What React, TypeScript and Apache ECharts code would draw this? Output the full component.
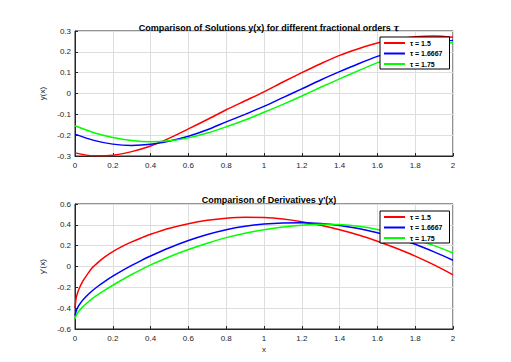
import React, { useEffect, useRef } from "react";
import * as echarts from "echarts";

const tauNames = ["τ = 1.5", "τ = 1.6667", "τ = 1.75"];
const colors = ["#ff0000", "#0000ff", "#00ff00"];

const xSol = [0, 0.1, 0.2, 0.3, 0.4, 0.5, 0.6, 0.7, 0.8, 0.9, 1.0, 1.1, 1.2, 1.3, 1.4, 1.5, 1.6, 1.7, 1.8, 1.9, 2.0];
const ySol15 = [-0.285, -0.299, -0.296, -0.279, -0.252, -0.214, -0.17, -0.125, -0.078, -0.035, 0.008, 0.055, 0.1, 0.143, 0.183, 0.215, 0.242, 0.26, 0.272, 0.276, 0.27];
const ySol16667 = [-0.195, -0.225, -0.243, -0.249, -0.244, -0.228, -0.205, -0.174, -0.136, -0.1, -0.062, -0.02, 0.022, 0.065, 0.105, 0.143, 0.178, 0.207, 0.23, 0.246, 0.255];
const ySol175 = [-0.155, -0.188, -0.211, -0.226, -0.232, -0.227, -0.213, -0.19, -0.16, -0.127, -0.09, -0.052, -0.012, 0.03, 0.07, 0.11, 0.148, 0.18, 0.21, 0.232, 0.245];

const xDer = [0, 0.005, 0.01, 0.02, 0.04, 0.06, 0.09, 0.125, 0.16, 0.2, 0.25, 0.3, 0.35, 0.4, 0.5, 0.6, 0.7, 0.8, 0.9, 1.0, 1.1, 1.2, 1.3, 1.4, 1.5, 1.6, 1.7, 1.8, 1.9, 2.0];
const yDer15 = [-0.4, -0.315, -0.275, -0.22, -0.145, -0.09, -0.015, 0.045, 0.095, 0.143, 0.193, 0.236, 0.274, 0.309, 0.367, 0.411, 0.443, 0.463, 0.472, 0.47, 0.456, 0.43, 0.395, 0.352, 0.302, 0.243, 0.175, 0.1, 0.015, -0.08];
const yDer16667 = [-0.47, -0.435, -0.41, -0.375, -0.325, -0.285, -0.235, -0.185, -0.14, -0.093, -0.04, 0.01, 0.057, 0.101, 0.18, 0.249, 0.307, 0.353, 0.386, 0.407, 0.418, 0.42, 0.412, 0.393, 0.364, 0.324, 0.274, 0.213, 0.14, 0.06];
const yDer175 = [-0.505, -0.475, -0.457, -0.43, -0.39, -0.355, -0.31, -0.266, -0.225, -0.18, -0.127, -0.077, -0.03, 0.015, 0.094, 0.163, 0.224, 0.277, 0.32, 0.353, 0.379, 0.397, 0.406, 0.403, 0.386, 0.356, 0.315, 0.262, 0.2, 0.13];

const xTicksMin = 0;
const xTicksMax = 2;
const xTickStep = 0.2;

const FONT = "Liberation Sans";
const AX = "#262626";

const fmt = (v: number) => String(parseFloat(v.toFixed(2)));

function pairs(xs: number[], ys: number[]) {
  return xs.map((x, i) => [x, ys[i]]);
}

export default function App() {
  const ref = useRef<HTMLDivElement>(null);
  useEffect(() => {
    if (!ref.current) return;
    const chart = echarts.init(ref.current, null, { renderer: "svg" });
    const grids = [
      { left: 75, right: 58, top: 31, height: 125, show: true, borderColor: AX, borderWidth: 1, backgroundColor: "transparent" },
      { left: 75, right: 58, top: 204, height: 125, show: true, borderColor: AX, borderWidth: 1, backgroundColor: "transparent" },
    ];
    const xMain = (gi: number, name: string) => ({
      type: "value",
      gridIndex: gi,
      min: xTicksMin,
      max: xTicksMax,
      interval: xTickStep,
      position: "bottom",
      name,
      nameLocation: "middle",
      nameGap: 16,
      nameTextStyle: { fontFamily: FONT, fontSize: 8, color: AX },
      axisLine: { show: true, onZero: false, lineStyle: { color: AX, width: 1 } },
      axisTick: { show: true, inside: true, length: 3, lineStyle: { color: AX } },
      axisLabel: { fontFamily: FONT, fontSize: 8, color: AX, margin: 5, formatter: fmt },
      splitLine: { show: true, lineStyle: { color: "#dedede", width: 1 } },
    });
    const yMain = (gi: number, min: number, max: number, step: number, name: string) => ({
      type: "value",
      gridIndex: gi,
      min,
      max,
      interval: step,
      position: "left",
      name,
      nameLocation: "middle",
      nameGap: 23,
      nameTextStyle: { fontFamily: FONT, fontSize: 8, color: AX },
      axisLine: { show: true, onZero: false, lineStyle: { color: AX, width: 1 } },
      axisTick: { show: true, inside: true, length: 3, lineStyle: { color: AX } },
      axisLabel: { fontFamily: FONT, fontSize: 8, color: AX, margin: 4, formatter: fmt },
      splitLine: { show: true, lineStyle: { color: "#dedede", width: 1 } },
    });
    const mkSeries = (name: string, color: string, data: number[][], gi: number) => ({
      type: "line",
      name,
      xAxisIndex: gi,
      yAxisIndex: gi,
      data,
      smooth: 0.3,
      showSymbol: false,
      symbol: "none",
      lineStyle: { color, width: 1.5 },
      itemStyle: { color },
    });
    const legendBase = {
      orient: "vertical",
      left: 380,
      data: tauNames,
      icon: "rect",
      itemWidth: 21,
      itemHeight: 2,
      itemGap: 0.5,
      padding: [1, 7, 0, 4],
      backgroundColor: "#ffffff",
      borderColor: "#000000",
      borderWidth: 1,
      borderRadius: 0,
      selectedMode: false,
      z: 10,
      textStyle: { fontFamily: FONT, fontSize: 7, fontWeight: "bold", color: "#000", lineHeight: 10 },
    };
    const titleStyle = {
      fontFamily: FONT,
      fontSize: 9,
      fontWeight: "bold",
      color: "#000",
      rich: { i: { fontFamily: "DejaVu Serif", fontStyle: "italic", fontSize: 9, color: "#000" } },
    };
    chart.setOption({
      animation: false,
      backgroundColor: "#ffffff",
      title: [
        {
          text: "Comparison of Solutions y(x) for different fractional orders {i|τ}",
          left: 264,
          textAlign: "center",
          top: 18,
          textStyle: titleStyle,
        },
        {
          text: "Comparison of Derivatives y'(x)",
          left: 264,
          textAlign: "center",
          top: 190,
          textStyle: titleStyle,
        },
      ],
      grid: grids,
      xAxis: [xMain(0, ""), xMain(1, "x")],
      yAxis: [
        yMain(0, -0.3, 0.3, 0.1, "y(x)"),
        yMain(1, -0.6, 0.6, 0.2, "y'(x)"),
      ],
      legend: [
        { ...legendBase, top: 37 },
        { ...legendBase, top: 211 },
      ],
      series: [
        mkSeries(tauNames[0], colors[0], pairs(xSol, ySol15), 0),
        mkSeries(tauNames[1], colors[1], pairs(xSol, ySol16667), 0),
        mkSeries(tauNames[2], colors[2], pairs(xSol, ySol175), 0),
        mkSeries(tauNames[0], colors[0], pairs(xDer, yDer15), 1),
        mkSeries(tauNames[1], colors[1], pairs(xDer, yDer16667), 1),
        mkSeries(tauNames[2], colors[2], pairs(xDer, yDer175), 1),
      ],
    });
    return () => chart.dispose();
  }, []);
  return (
    <div
      ref={ref}
      style={{ position: "fixed", left: 0, top: 0, width: 511, height: 362, background: "#fff" }}
    />
  );
}
